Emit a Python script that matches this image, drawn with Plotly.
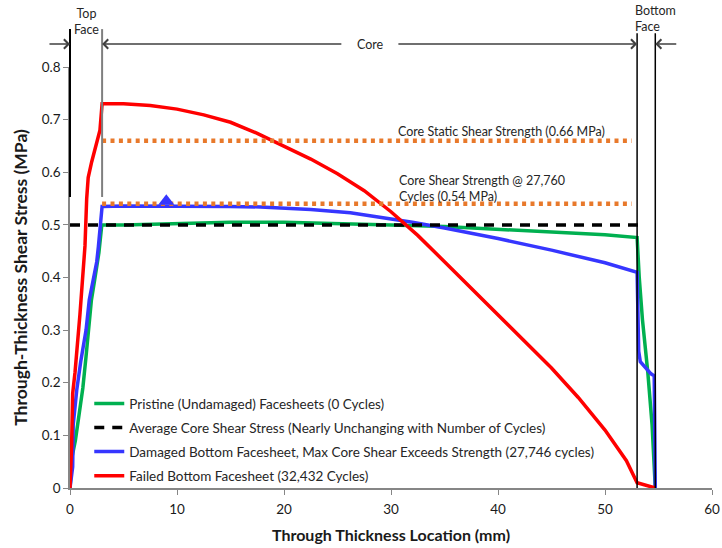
import plotly.graph_objects as go

# ---------------- data ----------------
pristine_x = [0, 0.2, 0.5, 0.8, 1.2, 1.5, 1.7, 2.0, 2.3, 2.5, 2.7, 2.95, 3.0, 5, 10, 15, 20, 25, 30, 35, 40, 45, 50, 53.0, 53.2, 53.5, 54.0, 54.4, 54.7]
pristine_y = [0, 0.06, 0.09, 0.13, 0.19, 0.25, 0.30, 0.357, 0.395, 0.42, 0.447, 0.496, 0.50, 0.500, 0.503, 0.505, 0.505, 0.503, 0.500, 0.497, 0.492, 0.487, 0.481, 0.476, 0.40, 0.32, 0.22, 0.12, 0]

avg_x = [0, 53.5]
avg_y = [0.50, 0.50]

damaged_x = [0, 0.25, 0.3, 0.63, 1.0, 1.5, 1.8, 2.2, 2.5, 2.65, 2.87, 3.0, 5, 10, 15, 17.8, 20, 22.5, 26.2, 29, 32, 35, 40, 45, 50, 53.0, 53.15, 53.3, 54.3, 54.6, 54.7]
damaged_y = [0, 0.04, 0.12, 0.186, 0.24, 0.30, 0.357, 0.395, 0.43, 0.458, 0.51, 0.535, 0.536, 0.536, 0.535, 0.534, 0.532, 0.529, 0.523, 0.515, 0.505, 0.494, 0.474, 0.452, 0.428, 0.410, 0.26, 0.24, 0.217, 0.213, 0]

failed_x = [0, 0.15, 0.25, 0.47, 0.93, 1.2, 1.4, 1.56, 1.7, 2.03, 2.5, 2.8, 3.0, 5, 7.5, 10, 12.5, 15, 17.5, 20, 22.5, 25, 27.5, 30, 32.5, 35, 37.5, 40, 42.5, 45, 47.5, 50, 52, 53.0, 54.7]
failed_y = [0, 0.08, 0.18, 0.22, 0.33, 0.395, 0.46, 0.55, 0.59, 0.62, 0.66, 0.68, 0.73, 0.73, 0.727, 0.72, 0.709, 0.695, 0.674, 0.65, 0.625, 0.597, 0.565, 0.525, 0.48, 0.43, 0.38, 0.33, 0.28, 0.228, 0.172, 0.11, 0.052, 0.01, 0]

max_point_x = [9.0]
max_point_y = [0.545]

static_strength = 0.66
fatigue_strength = 0.54
strength_x = [3.0, 52.5]

top_face_x = [0, 3.0]
bottom_face_x = [53.0, 54.7]

x_ticks = [0, 10, 20, 30, 40, 50, 60]
y_ticks = [0, 0.1, 0.2, 0.3, 0.4, 0.5, 0.6, 0.7, 0.8]
y_tick_text = ["0", "0.1", "0.2", "0.3", "0.4", "0.5", "0.6", "0.7", "0.8"]

X0, X1 = 0, 60
Y0, Y1 = 0, 0.8

FONT = "Lato"

def xp(x):
    return (x - X0) / (X1 - X0)

def yp(y):
    return (y - Y0) / (Y1 - Y0)

fig = go.Figure()

fig.add_trace(go.Scatter(x=pristine_x, y=pristine_y, mode="lines",
                         line=dict(color="#00B050", width=3.5),
                         name="Pristine (Undamaged) Facesheets (0 Cycles)", legendgroup="a", legendrank=1))
fig.add_trace(go.Scatter(x=damaged_x, y=damaged_y, mode="lines",
                         line=dict(color="#3636FF", width=3.5),
                         name="Damaged Bottom Facesheet, Max Core Shear Exceeds Strength (27,746 cycles)",
                         legendgroup="c", legendrank=3))
fig.add_trace(go.Scatter(x=avg_x, y=avg_y, mode="lines",
                         line=dict(color="#000000", width=3.5, dash="10px,8px"),
                         name="Average Core Shear Stress (Nearly Unchanging with Number of Cycles)",
                         legendgroup="b", legendrank=2))
fig.add_trace(go.Scatter(x=failed_x, y=failed_y, mode="lines",
                         line=dict(color="#FF0000", width=3.5),
                         name="Failed Bottom Facesheet (32,432 Cycles)", legendgroup="d", legendrank=4))
for s in (static_strength, fatigue_strength):
    fig.add_trace(go.Scatter(x=strength_x, y=[s, s], mode="lines",
                             line=dict(color="#E8792B", width=4.5, dash="4px,4.4px"),
                             showlegend=False, hoverinfo="skip"))
fig.add_trace(go.Scatter(x=max_point_x, y=max_point_y, mode="markers",
                         marker=dict(symbol="triangle-up", size=14, color="#3636FF"),
                         showlegend=False))

shapes = []
# top face boundary lines
for xv, col in zip(top_face_x, ["#000000", "#7F7F7F"]):
    shapes.append(dict(type="line", xref="paper", yref="paper",
                       x0=xp(xv), x1=xp(xv), y0=1.09, y1=yp(0.553),
                       line=dict(color=col, width=2)))
# bottom face boundary lines
for xv in bottom_face_x:
    shapes.append(dict(type="line", xref="paper", yref="paper",
                       x0=xp(xv), x1=xp(xv), y0=1.08, y1=yp(0.0),
                       line=dict(color="#000000", width=1.5)))

annotations = []
ARROW_Y = 1.0546
ARROW_COL = "#404040"

def arrow(head, tail):
    annotations.append(dict(x=head, y=ARROW_Y, xref="x", yref="paper",
                            ax=tail, ay=0, axref="x", ayref="pixel",
                            text="", showarrow=True, arrowhead=4, arrowsize=1.2,
                            arrowwidth=1.5, arrowcolor=ARROW_COL, standoff=0))

arrow(top_face_x[0], -2.06)
arrow(top_face_x[1], 25.5)
arrow(bottom_face_x[0], 30.55)
arrow(bottom_face_x[1], 56.8)

txt = dict(family=FONT, size=12.5, color="#262626")
annotations.append(dict(x=28.04, y=ARROW_Y, xref="x", yref="paper", text="Core",
                        showarrow=False, font=txt, xanchor="center", yanchor="middle"))
annotations.append(dict(x=1.5, y=1.108, xref="x", yref="paper", text="Top<br>Face",
                        showarrow=False, font=txt, xanchor="center", yanchor="middle"))
annotations.append(dict(x=52.6, y=1.115, xref="x", yref="paper", text="Bottom<br>Face",
                        showarrow=False, font=txt, xanchor="left", yanchor="middle", align="left"))
annotations.append(dict(x=30.5, y=0.678, xref="x", yref="y",
                        text="Core Static Shear Strength (0.66 MPa)",
                        showarrow=False, font=txt, xanchor="left", yanchor="middle"))
annotations.append(dict(x=30.6, y=0.569, xref="x", yref="y",
                        text="Core Shear Strength @ 27,760<br>Cycles (0.54 MPa)",
                        showarrow=False, font=txt, xanchor="left", yanchor="middle", align="left"))

fig.update_layout(
    width=722, height=548,
    margin=dict(l=70, r=10, t=67, b=60, autoexpand=False),
    paper_bgcolor="white", plot_bgcolor="white",
    font=dict(family=FONT, size=13, color="#262626"),
    shapes=shapes, annotations=annotations,
    showlegend=True,
    legend=dict(x=0.03, y=0.237, xanchor="left", yanchor="top",
                bgcolor="rgba(0,0,0,0)", tracegroupgap=3.5,
                font=dict(family=FONT, size=13.5, color="#262626"),
                itemwidth=30),
    xaxis=dict(range=[X0, X1], tickvals=x_ticks, showgrid=False, zeroline=False, automargin=False,
               showline=True, linecolor="#868686", linewidth=1.5,
               ticks="outside", ticklen=5, tickcolor="#868686", ticklabelstandoff=3,
               tickfont=dict(family=FONT, size=13.5, color="#1a1a1a"),
               title=dict(text="<b>Through Thickness Location (mm)</b>",
                          font=dict(family=FONT, size=16, color="#1a1a1a"), standoff=14)),
    yaxis=dict(range=[Y0, Y1], tickvals=y_ticks, ticktext=y_tick_text, showgrid=False, zeroline=False,
               automargin=False,
               showline=True, linecolor="#868686", linewidth=1.5,
               ticks="outside", ticklen=5, tickcolor="#868686",
               tickfont=dict(family=FONT, size=13.5, color="#1a1a1a"),
               title=dict(text="<b>Through-Thickness Shear Stress (MPa)</b>",
                          font=dict(family=FONT, size=17.5, color="#1a1a1a"), standoff=10)),
)

fig.write_html("out.html")
